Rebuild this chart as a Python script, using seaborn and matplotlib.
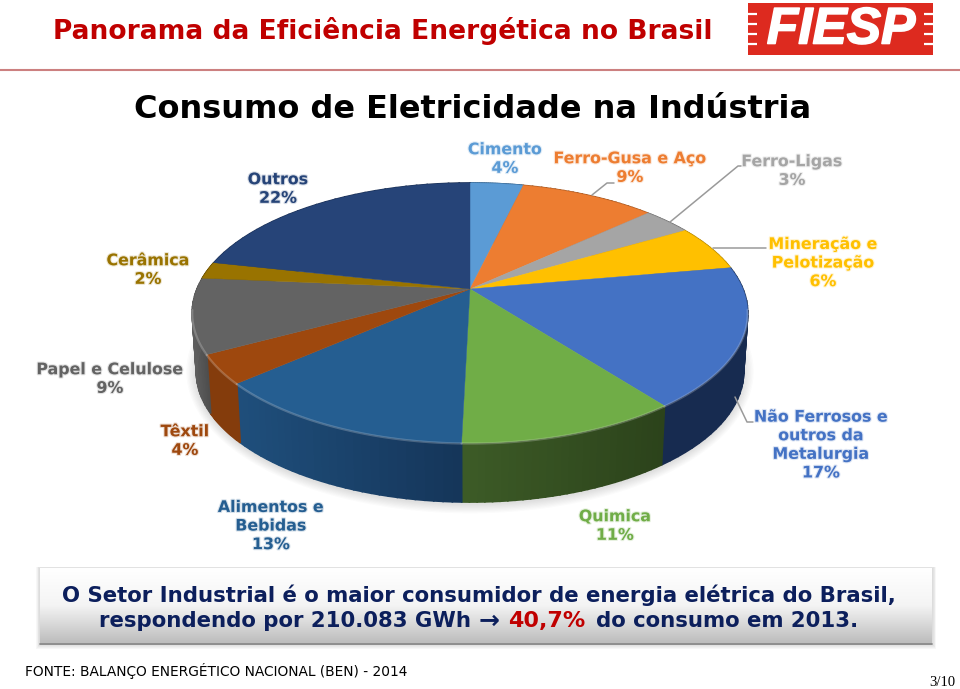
"""Consumo de Eletricidade na Industria: tilted 3D pie slide."""
import matplotlib
matplotlib.use("Agg")

import numpy as np
import matplotlib.pyplot as plt
import matplotlib.patheffects as pe
from matplotlib.colors import LinearSegmentedColormap, to_rgb
from matplotlib.patches import Rectangle
import seaborn as sns

SECTORS = ["Cimento", "Ferro-Gusa e Aço", "Ferro-Ligas", "Mineração e\nPelotização",
           "Não Ferrosos e\noutros da\nMetalurgia", "Quimica", "Alimentos e\nBebidas",
           "Têxtil", "Papel e Celulose", "Cerâmica", "Outros"]
# slice sizes; the printed labels are these rounded
SHARES = [3.7, 9.4, 3.4, 5.7, 17.4, 10.8, 13.1, 3.6, 9.3, 2.1, 21.5]

TOP_COLORS = ["#5B9BD5", "#ED7D31", "#A5A5A5", "#FFC000", "#4472C4", "#70AD47",
              "#255E91", "#9E480E", "#636363", "#997300", "#264478"]
SIDE_LEFT = ["#3A6A96", "#A5561F", "#737373", "#B38600", "#172B50", "#3D5C27",
             "#1F4F7C", "#843C0C", "#5E5E5E", "#6B5000", "#1A2F54"]
SIDE_RIGHT = ["#3A6A96", "#A5561F", "#737373", "#B38600", "#172B50", "#2C431B",
              "#15365A", "#843C0C", "#4E4E4E", "#6B5000", "#1A2F54"]
LABEL_POS = [(505, 159), (630, 168), (792, 171), (823, 263), (821, 445), (615, 526),
             (271, 526), (185, 441), (110, 379), (148, 270), (278, 189)]

# pixel geometry of the tilted disc
CX, CY = 470, 289
RX, RY, TILT = 273, 125.6, 0.1847
DEPTH = 59
SHRINK = 0.985

sns.set_theme(style="white")
plt.rcParams["font.family"] = ["DejaVu Sans"]


def rim(share_from, share_to, n=60):
    t = 2 * np.pi * np.linspace(share_from, share_to, n) / 100
    u, v = np.sin(t), np.cos(t)
    return CX + RX * u / (1 + TILT * v), CY - RY * v / (1 + TILT * v)


def lower(x, y):
    return CX + (x - CX) * SHRINK, y + DEPTH


def draw_shadow(ax):
    x, y = lower(*rim(0, 100, 200))
    for grow in np.linspace(10, 1, 8):
        sx = CX + (x - CX) * (1 + grow / RX)
        sy = 400 + (y - 400) * (1 + grow / 110) + 2
        ax.fill(sx, sy, color="#555555", alpha=0.025, lw=0, zorder=1)


def draw_pie(ax):
    edges = np.cumsum([0] + SHARES)
    for i in range(len(SHARES)):
        x, y = rim(edges[i], edges[i + 1], 30)
        bx, by = lower(x, y)
        left, right = np.array(to_rgb(SIDE_LEFT[i])), np.array(to_rgb(SIDE_RIGHT[i]))
        span = (x - x.min()) / max(x.max() - x.min(), 1)
        for j in range(len(x) - 1):
            shade = left + (right - left) * span[j]
            ax.fill([x[j], x[j + 1], bx[j + 1], bx[j]], [y[j], y[j + 1], by[j + 1], by[j]],
                    color=shade, lw=1.2, zorder=2)
    for i in range(len(SHARES)):
        x, y = rim(edges[i], edges[i + 1])
        ax.fill(np.r_[CX, x], np.r_[CY, y], color=TOP_COLORS[i], lw=0.3, zorder=3)
        front = y > CY + 20
        if front.any():
            ax.plot(x[front], y[front] + 0.5, color="white", alpha=0.22, lw=1.6, zorder=4)


def draw_labels(ax):
    for name, share, color, pos in zip(SECTORS, SHARES, TOP_COLORS, LABEL_POS):
        ax.text(pos[0], pos[1], f"{name}\n{share:.0f}%", color=color, fontsize=11.4,
                fontweight="bold", ha="center", va="center", linespacing=1.3, zorder=6,
                path_effects=[pe.withStroke(linewidth=1.6, foreground=color, alpha=0.18)])
    leaders = [([592, 607, 614], [195, 183, 183]), ([670, 738, 741], [222, 166, 166]),
               ([713, 766], [248, 248]), ([735, 747, 753], [397, 422, 422])]
    for lx, ly in leaders:
        ax.plot(lx, ly, color="#9A9A9A", lw=1.1, zorder=5)


def draw_header(ax):
    ax.text(53, 31, "Panorama da Eficiência Energética no Brasil", color="#C00000",
            fontsize=19.1, fontweight="bold", va="center")
    ax.plot([0, 960], [70, 70], color="#CC8080", lw=1.5)
    ax.text(473, 109, "Consumo de Eletricidade na Indústria", color="black",
            fontsize=23.0, fontweight="bold", ha="center", va="center")
    ax.add_patch(Rectangle((748, 3), 185, 52, color="#DD2A1F", lw=0))
    for yy in [14, 24, 34, 44]:
        ax.plot([748, 757], [yy, yy], color="white", lw=1.6, solid_capstyle="butt")
        ax.plot([924, 933], [yy, yy], color="white", lw=1.6, solid_capstyle="butt")
    ax.text(841, 30, "FIESP", color="white", fontsize=37, fontweight="bold", style="italic",
            family="Liberation Sans", ha="center", va="center",
            path_effects=[pe.withStroke(linewidth=1.2, foreground="white")])


def draw_callout(ax):
    for grow in np.linspace(4, 1, 5):
        ax.add_patch(Rectangle((40 - grow, 568 - grow / 3), 892 + 2 * grow, 76 + 1.6 * grow,
                               color="#707070", alpha=0.05, lw=0, zorder=1))
    cmap = LinearSegmentedColormap.from_list("box", ["#FFFFFF", "#F4F4F4", "#BDBDBD"])
    ax.imshow(np.linspace(0, 1, 80).reshape(-1, 1), cmap=cmap, aspect="auto",
              extent=(40, 932, 643, 568), zorder=2)
    ax.plot([40, 932], [643.5, 643.5], color="#808080", lw=1.2, zorder=3)
    navy = "#0C1F5C"
    kw = dict(fontweight="bold", va="center", zorder=4)
    ax.text(479, 595, "O Setor Industrial é o maior consumidor de energia elétrica do Brasil,",
            color=navy, ha="center", fontsize=15.3, **kw)
    ax.text(99, 621, "respondendo por 210.083 GWh", color=navy, fontsize=15.3, **kw)
    ax.text(479, 621, "→", color=navy, fontsize=18, **kw)
    ax.text(508, 621, "40,7%", color="#C00000", fontsize=16, **kw)
    ax.text(596, 621, "do consumo em 2013.", color=navy, fontsize=15.3, **kw)


def main() -> None:
    fig = plt.figure(figsize=(9.6, 6.89), dpi=100, facecolor="white")
    ax = fig.add_axes([0, 0, 1, 1])
    draw_shadow(ax)
    draw_pie(ax)
    draw_labels(ax)
    draw_header(ax)
    draw_callout(ax)
    ax.text(25, 671, "FONTE: BALANÇO ENERGÉTICO NACIONAL (BEN) - 2014", color="black",
            fontsize=9.9, va="center")
    ax.text(955, 682, "3/10", color="black", fontsize=10.5, family="Liberation Serif",
            ha="right", va="center")
    ax.set_xlim(0, 960)
    ax.set_ylim(689, 0)
    ax.axis("off")
    fig.savefig("out.png", dpi=100)
    plt.close("all")


if __name__ == "__main__":
    main()
